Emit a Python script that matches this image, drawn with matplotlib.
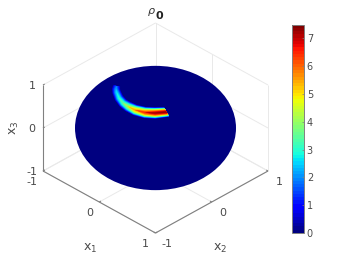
import numpy as np
import matplotlib
matplotlib.use('Agg')
import matplotlib.pyplot as plt
from matplotlib.patches import Ellipse, Polygon

# axis ticks
ticks = [-1, 0, 1]
cbar_ticks = [0, 1, 2, 3, 4, 5, 6, 7]
vmax = 7.5

# ridge of the density on the sphere, in view coordinates (h = x1+x2, w = up on screen)
arc_h = [-0.693, -0.702, -0.693, -0.649, -0.578, -0.489, -0.364, -0.187, -0.009, 0.196]
arc_w = [0.977, 0.907, 0.837, 0.698, 0.581, 0.500, 0.419, 0.360, 0.349, 0.372]
arc_peak = [1.8, 2.2, 2.6, 3.0, 3.5, 4.2, 5.5, 6.5, 7.3, 7.5]
arc_halfwidth = [4.0, 4.4, 4.6, 4.8, 5.0, 5.4, 5.6, 5.8, 5.8, 5.6]  # pixels
end_cut = (4.5, -8.0)  # direction of the blunt right end, pixels

W, H = 349, 262
sx, sy = 56.25, 43.0   # pixels per view unit
cx, cy = 155.5, 128.0  # centre of the box in pixels
slope = 31.0 / 43.0
radius = 1.012


def project(x1, x2, x3):
    return x1 + x2, x3 + (x2 - x1) * slope


fig = plt.figure(figsize=(W / 100, H / 100), dpi=100)
ax = fig.add_axes([0, 0, 1, 1])
ax.set_xlim(-cx / sx, (W - cx) / sx)
ax.set_ylim((cy - H) / sy, cy / sy)
ax.axis('off')

cmap = plt.get_cmap('jet', 64)
text_col = '#4a4a4a'
grid_col = '#e9e9e9'
axis_col = '#808080'


def seg(a, b, **kw):
    p, q = project(*a), project(*b)
    ax.plot([p[0], q[0]], [p[1], q[1]], solid_capstyle='butt', **kw)


# grid on floor and back walls
for t in ticks:
    seg((t, -1, -1), (t, 1, -1), color=grid_col, lw=0.7)
    seg((-1, t, -1), (1, t, -1), color=grid_col, lw=0.7)
    if t != 0:
        seg((-1, t, -1), (-1, t, 1), color=grid_col, lw=0.7)
    seg((t, 1, -1), (t, 1, 1), color=grid_col, lw=0.7)
    seg((-1, -1, t), (-1, 1, t), color=grid_col, lw=0.7)
    seg((-1, 1, t), (1, 1, t), color=grid_col, lw=0.7)

# axis lines
seg((-1, -1, -1), (1, -1, -1), color=axis_col, lw=0.8)
seg((1, -1, -1), (1, 1, -1), color=axis_col, lw=0.8)
seg((-1, -1, -1), (-1, -1, 1), color=axis_col, lw=0.8)
for t in ticks:
    seg((-1, -1, t), (-1, -0.97, t), color=axis_col, lw=0.8)
    seg((t, -1, -1), (t, -0.97, -1), color=axis_col, lw=0.8)
    seg((1, t, -1), (0.97, t, -1), color=axis_col, lw=0.8)

# sphere silhouette, seen from the view of the box
semi_w = np.hypot(np.sqrt(2) * slope, 1.0)
ax.add_patch(Ellipse((0, 0), 2 * radius * np.sqrt(2), 2 * radius * semi_w,
                     fc=cmap(0), ec='none', zorder=3))

# density ridge: nested bands, one per colour level
h = np.array(arc_h)
w = np.array(arc_w)
peak = np.array(arc_peak)
hw = np.array(arc_halfwidth)
dx = np.gradient(h * sx)
dy = np.gradient(w * sy)
norm = np.hypot(dx, dy)
nx_, ny_ = -dy / norm, dx / norm
cut = np.hypot(*end_cut)
nx_[-1], ny_[-1] = -end_cut[0] / cut, -end_cut[1] / cut
if nx_[-1] * nx_[-2] + ny_[-1] * ny_[-2] < 0:
    nx_[-1], ny_[-1] = -nx_[-1], -ny_[-1]
for level in np.linspace(0.1, vmax, 48):
    frac = np.clip(1 - level / peak, 0, 1)
    off = hw * frac ** 0.6
    if off.max() <= 0:
        continue
    up = np.c_[h + nx_ * off / sx, w + ny_ * off / sy]
    down = np.c_[h - nx_ * off / sx, w - ny_ * off / sy]
    ax.add_patch(Polygon(np.r_[up, down[::-1]], closed=True,
                         fc=cmap(level / vmax), ec='none', zorder=4))


def label(a, txt, dx_pix, dy_pix, size=8, **kw):
    p = project(*a)
    ax.annotate(txt, p, xytext=(dx_pix * 0.72, dy_pix * 0.72), textcoords='offset points',
                ha='center', va='center', fontsize=size, color=text_col, **kw)


# tick labels, offsets in pixels
for t, s in zip(ticks, ['-1', '0', '1']):
    label((-1, -1, t), s, -11, -1)
    label((t, -1, -1), s, -11 if t < 0 else -10, -11)
    label((1, t, -1), s, 11, -11)
label((0, -1, -1), r'$\mathrm{x}_1$', -9, -46, size=9)
label((1, 0, -1), r'$\mathrm{x}_2$', 8, -46, size=9)
label((-1, -1, 0), r'$\mathrm{x}_3$', -29, 0, size=9, rotation=90)

# title
fig.text(151.7 / W, 1 - 12.5 / H, r'$\rho$', fontsize=8, color='#333333', ha='center', va='center')
fig.text(159.5 / W, 1 - 16 / H, '0', fontsize=8, fontweight='bold', color='#222222',
         ha='center', va='center')

# colorbar
cax = fig.add_axes([291.5 / W, 1 - 233 / H, 12.5 / W, 208.5 / H])
sm = plt.cm.ScalarMappable(norm=plt.Normalize(0, vmax), cmap=cmap)
cb = fig.colorbar(sm, cax=cax)
cb.set_ticks(cbar_ticks)
cb.ax.tick_params(direction='in', length=1.5, width=0.5, color=axis_col, labelsize=7,
                  labelcolor=text_col, pad=2)
cb.outline.set_edgecolor(axis_col)
cb.outline.set_linewidth(0.7)

fig.savefig('out.png', dpi=100)
